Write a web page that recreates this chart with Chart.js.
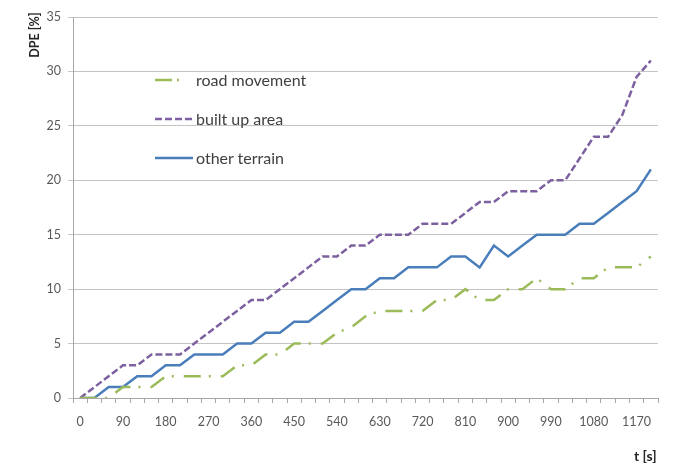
<!DOCTYPE html>
<html>
<head>
<meta charset="utf-8">
<title>DPE over time</title>
<script src="https://cdn.jsdelivr.net/npm/chart.js"></script>
<style>
    html, body { margin: 0; padding: 0; background: #fff; }
    #wrap { position: relative; width: 677px; height: 465px; font-family: Lato, "Open Sans", sans-serif; }
    #chart { position: absolute; left: 0; top: 0; }
    .legend { position: absolute; left: 155px; top: 60px; font-size: 16px; color: #404040; }
    .legend .item { height: 39px; display: flex; align-items: center; }
    .legend svg { width: 38px; height: 4px; margin-right: 3px; }
    .ytitle { position: absolute; left: 0px; top: 27px; width: 70px; text-align: center; font-weight: bold; font-size: 12.5px; color: #262626; transform: rotate(-90deg); transform-origin: 35px 8px; }
    .xtitle { position: absolute; left: 634px; top: 447px; font-weight: bold; font-size: 14px; color: #262626; }
</style>
</head>
<body>
<div id="wrap">
    <canvas id="chart" width="677" height="465"></canvas>
    <div class="ytitle">DPE [%]</div>
    <div class="xtitle">t [s]</div>
    <div class="legend">
        <div class="item"><svg viewBox="0 0 38 4"><line x1="0" y1="2" x2="38" y2="2" stroke="#9bbb59" stroke-width="2.5" stroke-dasharray="17 5 2 14"/></svg>road movement</div>
        <div class="item"><svg viewBox="0 0 38 4"><line x1="0" y1="2" x2="38" y2="2" stroke="#7d60a0" stroke-width="2.5" stroke-dasharray="7 3"/></svg>built up area</div>
        <div class="item"><svg viewBox="0 0 38 4"><line x1="0" y1="2" x2="38" y2="2" stroke="#4a7ebb" stroke-width="2.5"/></svg>other terrain</div>
    </div>
</div>

<script>
    // time steps [s]
    const seconds = ['0', '30', '60', '90', '120', '150', '180', '210', '240', '270',
        '300', '330', '360', '390', '420', '450', '480', '510', '540', '570',
        '600', '630', '660', '690', '720', '750', '780', '810', '840', '870',
        '900', '930', '960', '990', '1020', '1050', '1080', '1110', '1140', '1170', '1200'];

    // DPE [%]
    const roadMovement = [0, 0, 0, 1, 1, 1, 2, 2, 2, 2,
        2, 3, 3, 4, 4, 5, 5, 5, 6, 6.5,
        7.5, 8, 8, 8, 8, 9, 9, 10, 9, 9,
        10, 10, 11, 10, 10, 11, 11, 12, 12, 12, 13];
    const builtUpArea = [0, 1, 2, 3, 3, 4, 4, 4, 5, 6,
        7, 8, 9, 9, 10, 11, 12, 13, 13, 14,
        14, 15, 15, 15, 16, 16, 16, 17, 18, 18,
        19, 19, 19, 20, 20, 22, 24, 24, 26, 29.5, 31];
    const otherTerrain = [0, 0, 1, 1, 2, 2, 3, 3, 4, 4,
        4, 5, 5, 6, 6, 7, 7, 8, 9, 10,
        10, 11, 11, 12, 12, 12, 13, 13, 12, 14,
        13, 14, 15, 15, 15, 16, 16, 17, 18, 19, 21];

    const yMin = 0, yMax = 35, yStep = 5;
    const labelEvery = 3;

    const tickFont = { family: 'Lato', size: 12.5 };

    new Chart(document.getElementById('chart'), {
        type: 'line',
        data: {
            labels: seconds,
            datasets: [
                {
                    label: 'road movement',
                    data: roadMovement,
                    borderColor: '#9bbb59',
                    borderWidth: 2.5,
                    borderDash: [17, 8, 2, 10],
                    pointRadius: 0,
                    tension: 0
                },
                {
                    label: 'built up area',
                    data: builtUpArea,
                    borderColor: '#7d60a0',
                    borderWidth: 2.5,
                    borderDash: [7, 3],
                    pointRadius: 0,
                    tension: 0
                },
                {
                    label: 'other terrain',
                    data: otherTerrain,
                    borderColor: '#4a7ebb',
                    borderWidth: 2.5,
                    pointRadius: 0,
                    tension: 0
                }
            ]
        },
        options: {
            responsive: false,
            devicePixelRatio: 1,
            animation: false,
            layout: { padding: { top: 17, right: 19, left: 0, bottom: 0 } },
            plugins: {
                legend: { display: false },
                tooltip: { enabled: false }
            },
            scales: {
                x: {
                    type: 'category',
                    offset: true,
                    grid: { offset: true, drawOnChartArea: false, tickLength: 5, color: '#a6a6a6' },
                    border: { color: '#a6a6a6' },
                    ticks: {
                        autoSkip: false,
                        maxRotation: 0,
                        minRotation: 0,
                        padding: 11,
                        color: '#595959',
                        font: tickFont,
                        callback: function(val, i) {
                            return i % labelEvery === 0 ? this.getLabelForValue(val) : '';
                        }
                    },
                    afterFit: function(scale) { scale.height = 67; }
                },
                y: {
                    min: yMin,
                    max: yMax,
                    ticks: { stepSize: yStep, padding: 7, color: '#595959', font: tickFont },
                    grid: { color: '#c4c4c4', tickLength: 5 },
                    border: { color: '#a6a6a6' },
                    afterFit: function(scale) { scale.width = 73; }
                }
            }
        }
    });
</script>
</body>
</html>
